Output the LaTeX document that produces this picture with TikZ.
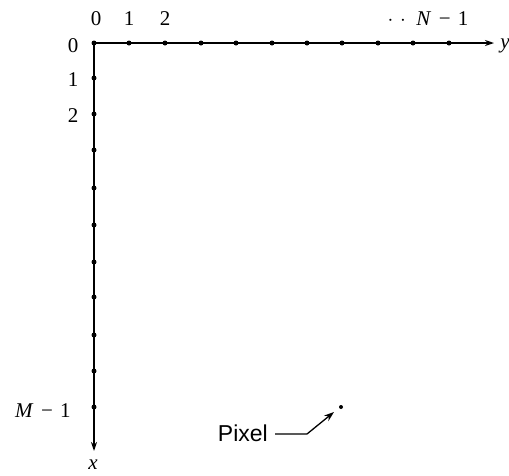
\documentclass[tikz,border=0pt]{standalone}
\usepackage{fontspec}
\setmainfont{Liberation Serif}
\newfontfamily\pixfont{Liberation Sans}
\usetikzlibrary{arrows.meta}
\newcommand{\mns}{\hspace{0.35em}−\hspace{0.35em}}
\begin{document}
\begin{tikzpicture}[x=1pt,y=-1pt,
  axis/.style={line width=1.4pt,-{Stealth[length=9pt,width=6pt]}},
  pt/.style={circle,fill=black,inner sep=0pt,minimum size=5pt},
  lab/.style={font=\fontsize{21}{21}\selectfont,inner sep=0pt}]
\useasboundingbox (0,0) rectangle (509,475);
\node[pt] (o) at (94,43) {};
\coordinate (yend) at (494,43);
\coordinate (xend) at (94,451);
\draw[axis] (o.center) -- (yend);
\draw[axis] (o.center) -- (xend);
\foreach \i/\xx in {1/129,2/165,3/201,4/236,5/272,6/307,7/342,8/378,9/413,10/449}
  \node[pt] (h\i) at (\xx,43) {};
\foreach \i/\yy in {1/78,2/114,3/150,4/188,5/225,6/262,7/297,8/335,9/371,10/407}
  \node[pt] (v\i) at (94,\yy) {};
% top labels
\node[lab] (t0) at (96,19) {0};
\node[lab] (t1) at (129,19) {1};
\node[lab] (t2) at (165,19) {2};
\node[lab] (tn) at (428,19) {$\cdot\,\,\cdot$\hspace{0.5em}\textit{N}\mns 1};
% left labels
\node[lab] (l0) at (73,46) {0};
\node[lab] (l1) at (73,80) {1};
\node[lab] (l2) at (73,116) {2};
\node[lab] (lm) at (43,411) {\textit{M}\mns 1};
% axis names
\node[lab] (ylab) at (505,46) {\textit{y}};
\node[lab] (xlab) at (93,465) {\textit{x}};
% pixel
\node[pt,minimum size=4pt] (pix) at (341,407) {};
\node[font=\pixfont\fontsize{23}{23}\selectfont,inner sep=0pt,anchor=east] (ptext) at (268,433) {Pixel};
\coordinate (bend) at (307,434);
\draw[line width=1.3pt,-{Stealth[length=10pt,width=7pt]}] (ptext.east) ++(7,1) -- (bend) -- (334,412);
\end{tikzpicture}
\end{document}
